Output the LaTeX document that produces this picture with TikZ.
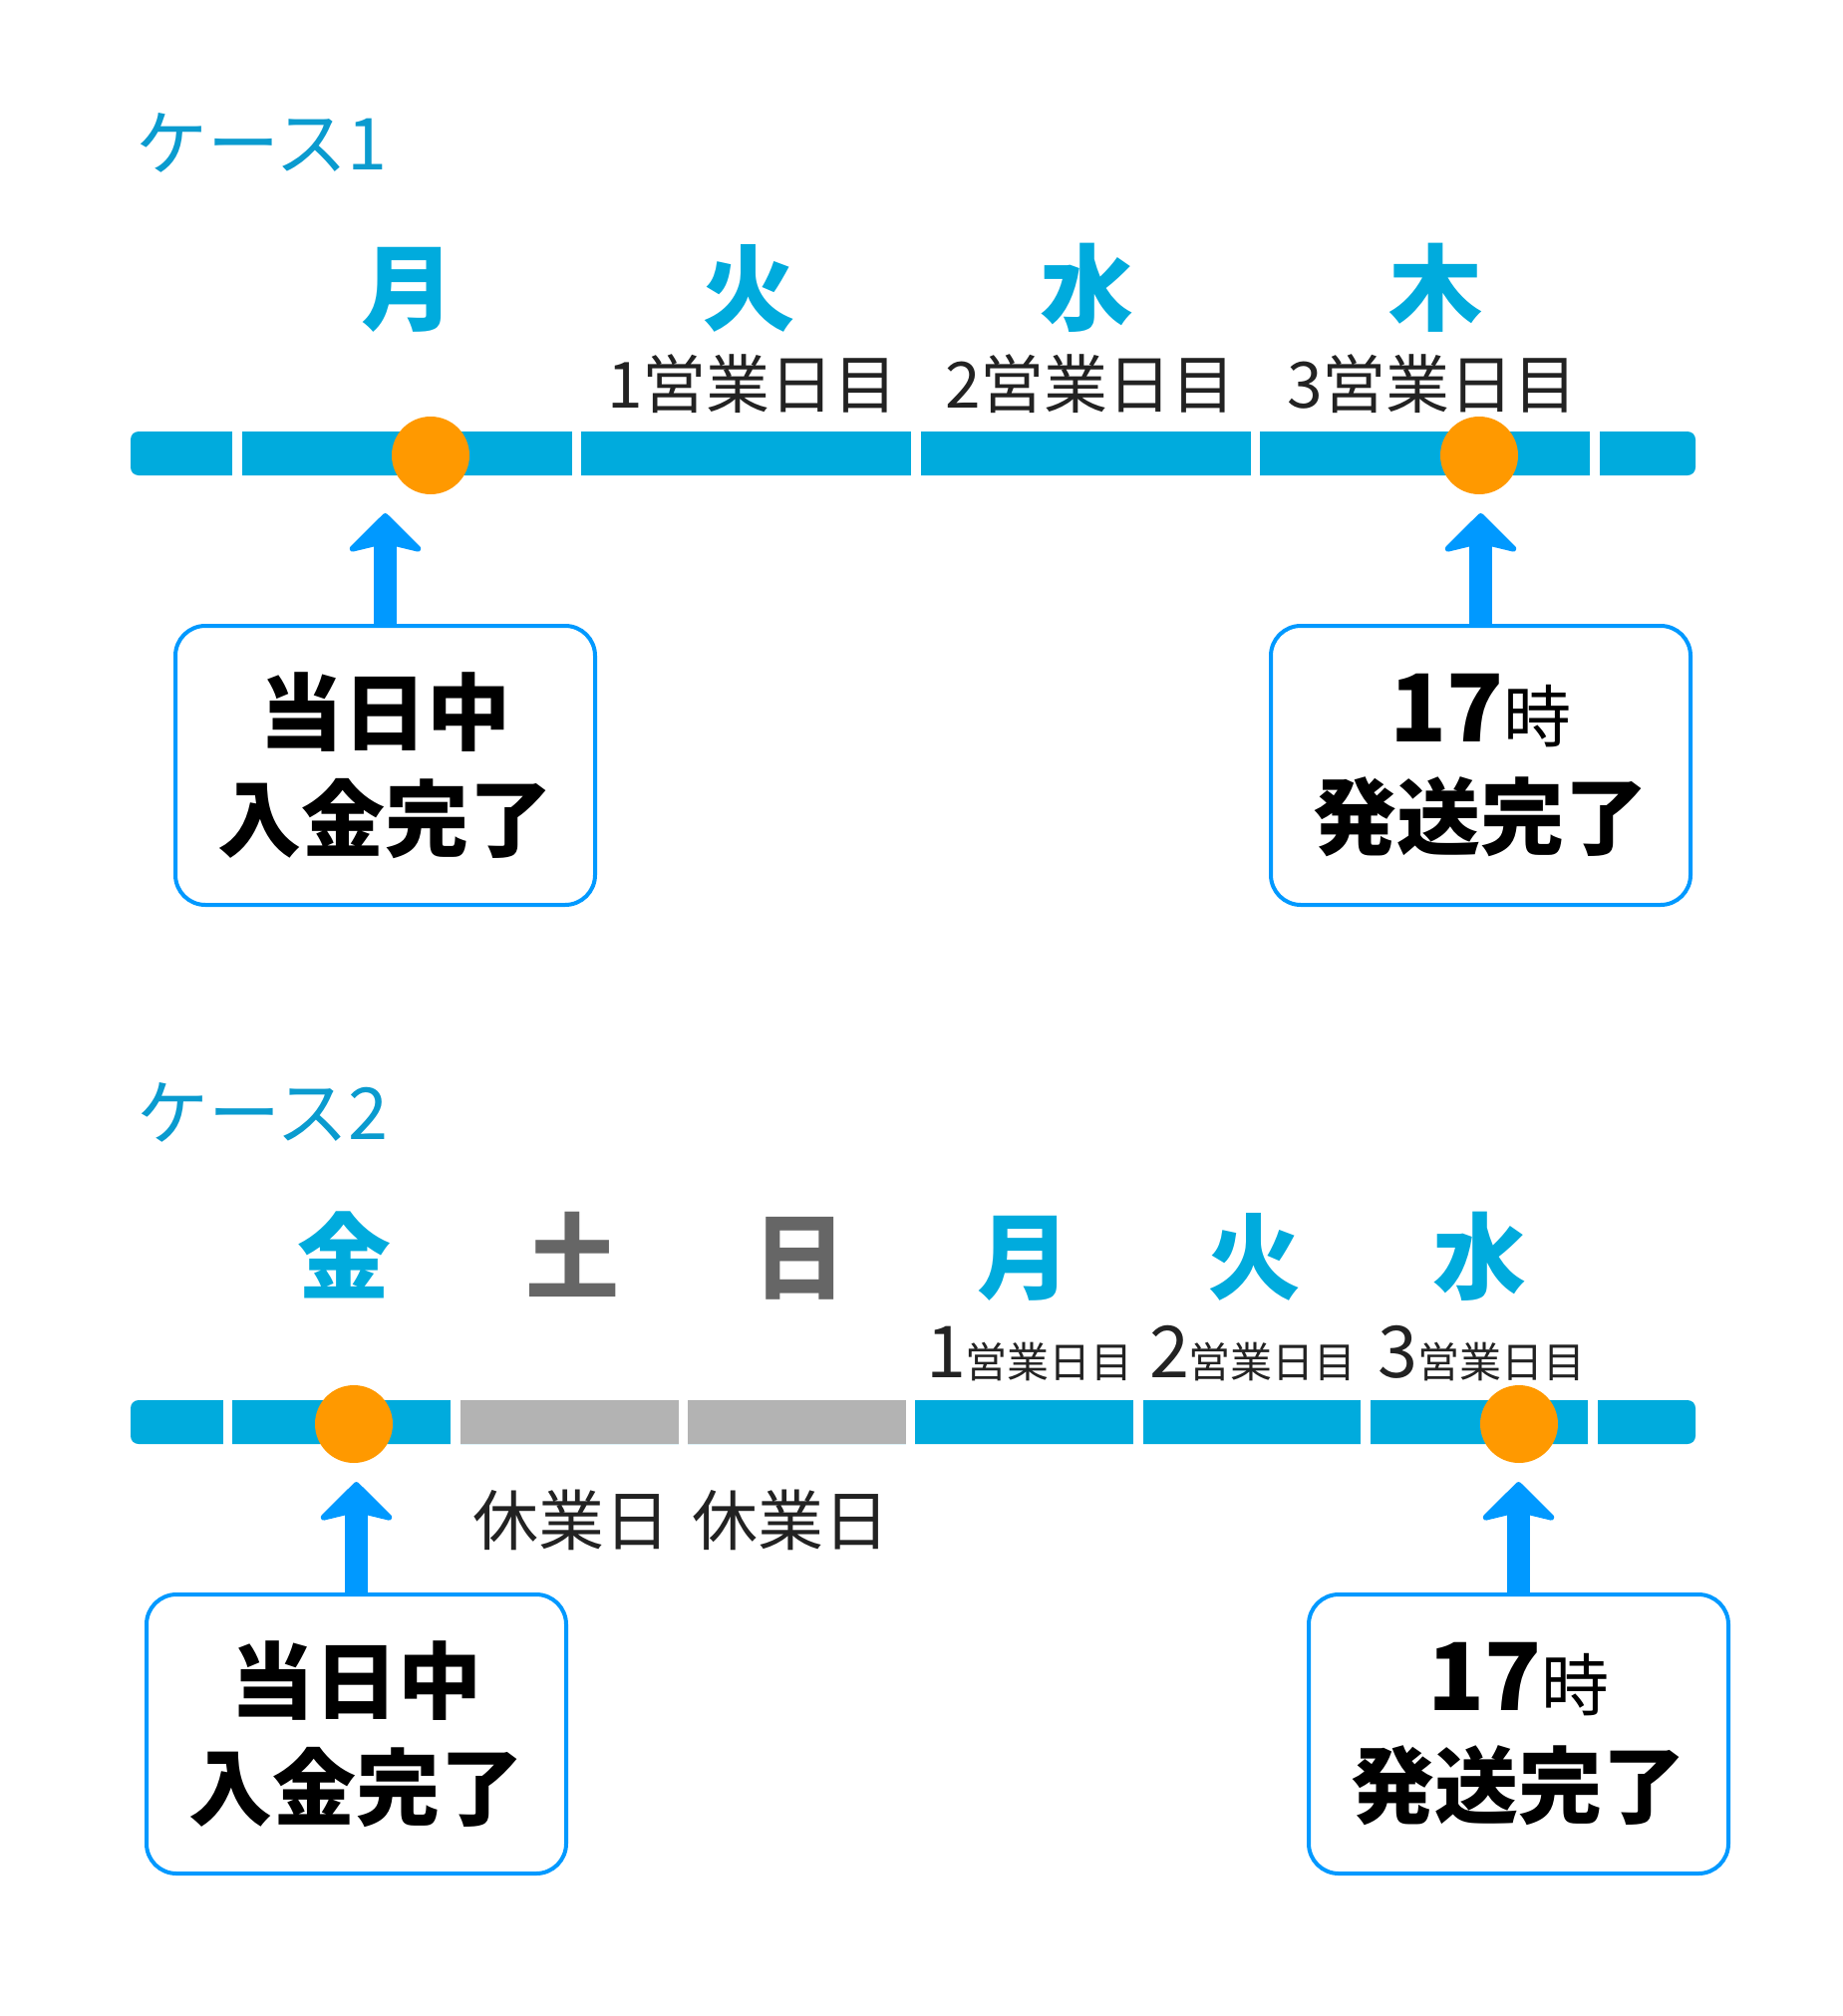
\documentclass[tikz,border=0pt]{standalone}
\usepackage{fontspec}
\usepackage{tikz}
\usetikzlibrary{arrows.meta}
\newfontfamily\jp{Noto Sans CJK JP}
\definecolor{barblue}{HTML}{00ABDD}
\definecolor{titleblue}{HTML}{0A9BCF}
\definecolor{arrowblue}{HTML}{0099FF}
\definecolor{dotorange}{HTML}{FF9900}
\definecolor{offbar}{HTML}{B3B3B3}
\definecolor{offgray}{HTML}{666666}
\definecolor{ink}{HTML}{222222}
\newcommand{\fs}[2]{\fontsize{#1}{#2}\selectfont}

\begin{document}
\begin{tikzpicture}[x=1pt,y=-1pt,
  title/.style={font=\jp\fs{72}{72}, text=titleblue, anchor=west, inner sep=0pt},
  day/.style={font=\jp\bfseries\fs{94}{94}, text=barblue, anchor=base, inner sep=0pt},
  offday/.style={day, text=offgray},
  nth/.style={font=\jp\fs{64}{64}, text=ink, anchor=base, inner sep=0pt},
  dot/.style={circle, fill=dotorange, inner sep=0pt, minimum size=78pt},
  callout/.style={draw=arrowblue, line width=4pt, rounded corners=30pt, fill=white,
    minimum width=421pt, minimum height=280pt, inner sep=0pt, align=center,
    font=\jp\bfseries\fs{84}{107}, text=black},
  pointer/.style={draw=arrowblue, line width=23pt,
    -{Stealth[length=42pt,width=84pt,inset=10pt,line width=6pt,round]}},
  gap/.style={draw=white, line width=9.5pt}]
  \useasboundingbox[fill=white] (0,0) rectangle (1848,2023);

  % case 1
  \node[title] (case1) at (136,143) {ケース1};
  \node[day] (mon1) at (409,324) {月};
  \node[day] (tue1) at (751,324) {火};
  \node[day] (wed1) at (1090,324) {水};
  \node[day] (thu1) at (1440,324) {木};
  \node[nth] (bd1a) at (755,409) {1営業日目};
  \node[nth] (bd1b) at (1094,409) {2営業日目};
  \node[nth] (bd1c) at (1437,409) {3営業日目};
  \fill[barblue, rounded corners=8pt] (131,433) rectangle (1701,477);
  \foreach \b in {238,578.5,919,1259.5,1600}
    \draw[gap] (\b,430) -- (\b,480);
  \node[dot] (in1) at (432,457) {};
  \node[dot] (out1) at (1484,457) {};
  \coordinate (in1tip) at (386.5,515);
  \coordinate (out1tip) at (1485.5,515);
  \node[callout] (pay1) at (386.5,768) {当日中\\入金完了};
  \node[callout] (ship1) at (1485.5,768) {{\fs{94}{107}17}{\mdseries\fs{68}{107}時}\\発送完了};
  \draw[pointer] (pay1.north) -- (in1tip);
  \draw[pointer] (ship1.north) -- (out1tip);

  % case 2
  \node[title] (case2) at (137,1116) {ケース2};
  \node[day] (fri2) at (345,1296) {金};
  \node[offday] (sat2) at (574,1296) {土};
  \node[offday] (sun2) at (802,1296) {日};
  \node[day] (mon2) at (1027,1296) {月};
  \node[day] (tue2) at (1258,1296) {火};
  \node[day] (wed2) at (1484,1296) {水};
  \node[nth] (bd2a) at (1033,1382) {{\fs{72}{72}1}\fs{42}{42}営業日目};
  \node[nth] (bd2b) at (1257,1382) {{\fs{72}{72}2}\fs{42}{42}営業日目};
  \node[nth] (bd2c) at (1486,1382) {{\fs{72}{72}3}\fs{42}{42}営業日目};
  \fill[barblue, rounded corners=8pt] (131,1405) rectangle (1701,1449);
  \fill[offbar] (457,1405) rectangle (913.5,1449);
  \foreach \b in {228.5,457,685.5,913.5,1142,1370,1598}
    \draw[gap] (\b,1402) -- (\b,1452);
  \node[nth, font=\jp\fs{66}{66}] (hol2a) at (573,1550) {休業日};
  \node[nth, font=\jp\fs{66}{66}] (hol2b) at (793,1550) {休業日};
  \node[dot] (in2) at (355,1429) {};
  \node[dot] (out2) at (1524,1429) {};
  \coordinate (in2tip) at (357.5,1487);
  \coordinate (out2tip) at (1523.5,1487);
  \node[callout] (pay2) at (357.5,1740) {当日中\\入金完了};
  \node[callout] (ship2) at (1523.5,1740) {{\fs{94}{107}17}{\mdseries\fs{68}{107}時}\\発送完了};
  \draw[pointer] (pay2.north) -- (in2tip);
  \draw[pointer] (ship2.north) -- (out2tip);
\end{tikzpicture}
\end{document}
